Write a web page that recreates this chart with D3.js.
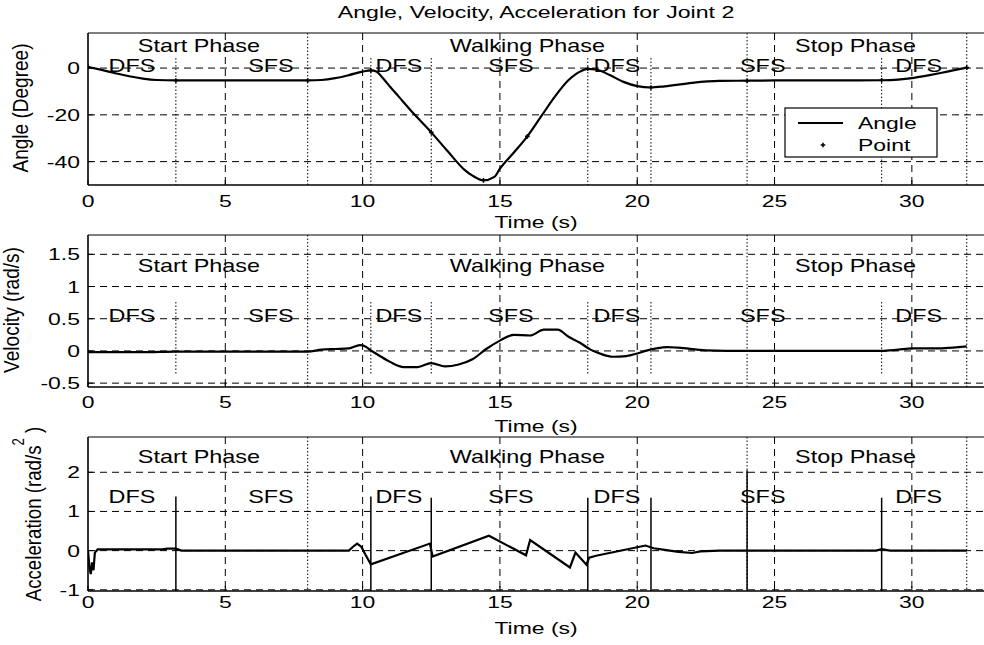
<!DOCTYPE html>
<html><head><meta charset="utf-8">
<script src="https://cdn.jsdelivr.net/npm/d3@7"></script>
<style>
html,body{margin:0;padding:0;background:#fff;}
svg{display:block;}
text{font-family:"Liberation Sans",Arial,sans-serif;fill:#000;}
</style></head>
<body>
<svg id="chart" width="984" height="645"></svg>
<script>
// ---------------- DATA ----------------
const title = "Angle, Velocity, Acceleration for Joint 2";
const xTicks = [0, 5, 10, 15, 20, 25, 30];
const angleTicks = [-40, -20, 0];
const velTicks = [-0.5, 0, 0.5, 1, 1.5];
const accTicks = [-1, 0, 1, 2];

const angleT = [0, 0.5, 1, 1.5, 2, 2.5, 3.2, 4, 5, 6, 7, 8, 8.5, 9, 9.5, 10, 10.3, 10.5, 10.75, 11, 11.3, 11.9, 12.5, 13.1, 13.7, 14.0, 14.4, 14.8, 15, 15.5, 16, 16.5, 17, 17.5, 18, 18.2, 18.5, 19, 19.5, 20, 20.5, 21, 22, 23, 24, 25, 26, 27, 28, 28.9, 29.5, 30, 30.5, 31, 31.5, 32];
const angleV = [0.5, -0.8, -2.2, -3.5, -4.5, -5.1, -5.3, -5.3, -5.3, -5.3, -5.3, -5.3, -5.1, -4.3, -3.0, -1.5, -1.0, -1.5, -4.5, -8.0, -12.0, -20.0, -27.5, -35.6, -43.4, -46.0, -48.0, -46.5, -43.0, -36.2, -29.2, -20.7, -12.2, -5.1, -1.0, -0.3, -0.6, -3.0, -5.9, -7.7, -8.3, -7.8, -6.3, -5.5, -5.4, -5.3, -5.3, -5.3, -5.3, -5.2, -4.9, -4.3, -3.3, -2.2, -1.0, 0.2];

const pointT = [0, 3.2, 8, 10.3, 12.5, 14.4, 16, 18.2, 20.5, 24, 28.9, 32];
const pointV = [0.5, -5.3, -5.3, -1.0, -27.5, -48.0, -29.2, -0.3, -8.3, -5.4, -5.2, 0.2];

const velT = [0, 2, 3.2, 5, 8, 8.5, 9, 9.5, 9.9, 10.1, 10.3, 10.6, 11, 11.5, 12, 12.5, 13, 13.5, 14, 14.5, 15, 15.5, 16.1, 16.6, 17.1, 17.5, 17.9, 18.3, 18.7, 19.1, 19.6, 20, 20.3, 20.7, 21.1, 21.5, 22.5, 24, 26, 28.9, 29.5, 30, 31, 31.7, 32];
const velV = [-0.02, -0.02, -0.01, -0.01, -0.01, 0.02, 0.03, 0.04, 0.09, 0.07, 0.01, -0.07, -0.17, -0.25, -0.25, -0.19, -0.24, -0.21, -0.13, 0.03, 0.16, 0.25, 0.24, 0.33, 0.33, 0.22, 0.13, 0.02, -0.05, -0.09, -0.08, -0.04, 0.0, 0.04, 0.06, 0.05, 0.01, 0.0, 0.0, 0.0, 0.02, 0.04, 0.04, 0.06, 0.07];

const accT = [0, 0.05, 0.1, 0.15, 0.2, 0.25, 0.35, 2.7, 2.9, 3.2, 3.4, 9.5, 9.65, 9.8, 9.95, 10.1, 10.3, 12.45, 12.55, 14.6, 15.95, 16.1, 17.55, 17.75, 18.15, 18.25, 18.5, 20.3, 20.6, 21, 21.5, 22, 22.3, 23, 28.7, 28.9, 29.2, 32];
const accV = [0, -0.4, -0.6, -0.3, -0.5, -0.05, 0.03, 0.03, 0.05, 0.05, 0.0, 0.0, 0.1, 0.18, 0.1, -0.1, -0.35, 0.18, -0.15, 0.38, -0.12, 0.27, -0.43, -0.05, -0.36, -0.18, -0.13, 0.13, 0.06, 0.02, -0.03, -0.06, -0.02, 0.0, 0.0, 0.04, 0.0, 0.0];

// impulses of acceleration at phase transitions
const spikeT = [3.2, 10.3, 12.5, 18.2, 20.5, 24, 28.9];
const spikeTop = [1.38, 1.38, 1.35, 1.35, 1.35, 2.05, 1.35];

const phaseBounds = [8, 24, 32];
const subBounds = [3.2, 10.3, 12.5, 18.2, 20.5, 28.9];

const phaseNames = ["Start Phase", "Walking Phase", "Stop Phase"];
const phaseAt = [4.04, 16.0, 27.95];
const subNames = ["DFS", "SFS", "DFS", "SFS", "DFS", "SFS", "DFS"];
const subAt = [1.6, 6.66, 11.32, 15.4, 19.26, 24.57, 30.25];

const legendNames = ["Angle", "Point"];

// ---------------- LAYOUT ----------------
const svg = d3.select("#chart");
const SX = 1.35;
const FS = 17;
const x = d3.scaleLinear().domain([0, 32.7]).range([88, 986]);

function stext(g, px, py, str, anchor, size, sx) {
  return g.append("text")
    .attr("transform", `translate(${px},${py}) scale(${sx || SX},1)`)
    .attr("text-anchor", anchor || "start")
    .style("font-size", (size || FS) + "px")
    .text(str);
}

const panels = [
  {key: "angle", top: 33, bottom: 185, domain: [-50, 15], ticks: angleTicks, tickLblDy: 22, timeY: 228,
   phaseY: 52, subY: 72, subLineTop: 4.3, subLineBot: -50,
   label: "Angle (Degree)", labelX: 28, labelY: 108},
  {key: "vel", top: 235, bottom: 387, domain: [-0.56, 1.8], ticks: velTicks, tickLblDy: 21, timeY: 432,
   phaseY: 272, subY: 322, subLineTop: 0.76, subLineBot: -0.38,
   label: "Velocity (rad/s)", labelX: 19, labelY: 310},
  {key: "acc", top: 437, bottom: 591, domain: [-1.03, 2.9], ticks: accTicks, tickLblDy: 17, timeY: 634,
   phaseY: 463, subY: 503, subLineTop: null, subLineBot: null,
   label: null, labelX: 41, labelY: 514}
];

// title
stext(svg, 536, 18, title, "middle", 17, 1.36);

const lineGen = (y, curve) => d3.line().x(d => x(d[0])).y(d => y(d[1])).curve(curve || d3.curveLinear);

panels.forEach((p, i) => {
  const y = d3.scaleLinear().domain(p.domain).range([p.bottom, p.top]);
  const g = svg.append("g");
  const x0 = x.range()[0], x1 = x.range()[1];

  const clipId = "clip" + i;
  svg.append("clipPath").attr("id", clipId).append("rect")
    .attr("x", x0).attr("y", p.top).attr("width", x1 - x0).attr("height", p.bottom - p.top);

  // grid
  g.selectAll(".hg").data(p.ticks).enter().append("line")
    .attr("x1", x0).attr("x2", x1).attr("y1", d => y(d)).attr("y2", d => y(d))
    .attr("stroke", "#000").attr("stroke-width", 1).attr("stroke-dasharray", "7,5");
  g.selectAll(".vg").data(xTicks.filter(d => d > 0)).enter().append("line")
    .attr("x1", d => x(d)).attr("x2", d => x(d)).attr("y1", p.top).attr("y2", p.bottom)
    .attr("stroke", "#000").attr("stroke-width", 1).attr("stroke-dasharray", "7,5");

  // phase boundaries (dotted)
  g.selectAll(".pb").data(phaseBounds).enter().append("line")
    .attr("x1", d => x(d)).attr("x2", d => x(d)).attr("y1", p.top).attr("y2", p.bottom)
    .attr("stroke", "#000").attr("stroke-width", 1).attr("stroke-dasharray", "1.5,2");
  if (p.subLineTop !== null) {
    g.selectAll(".sb").data(subBounds).enter().append("line")
      .attr("x1", d => x(d)).attr("x2", d => x(d))
      .attr("y1", y(p.subLineTop)).attr("y2", y(p.subLineBot))
      .attr("stroke", "#000").attr("stroke-width", 1).attr("stroke-dasharray", "1.5,2");
  }

  // frame
  g.append("line").attr("x1", x0).attr("x2", x1).attr("y1", p.top).attr("y2", p.top)
    .attr("stroke", "#000").attr("stroke-width", 1.2);
  g.append("line").attr("x1", x0).attr("x2", x1).attr("y1", p.bottom).attr("y2", p.bottom)
    .attr("stroke", "#000").attr("stroke-width", 1.6);
  g.append("line").attr("x1", x0).attr("x2", x0).attr("y1", p.top).attr("y2", p.bottom)
    .attr("stroke", "#000").attr("stroke-width", 1.6);

  // inside ticks
  g.selectAll(".xt").data(xTicks).enter().append("line")
    .attr("x1", d => x(d)).attr("x2", d => x(d)).attr("y1", p.bottom).attr("y2", p.bottom - 5)
    .attr("stroke", "#000");
  g.selectAll(".yt").data(p.ticks).enter().append("line")
    .attr("x1", x0).attr("x2", x0 + 5).attr("y1", d => y(d)).attr("y2", d => y(d))
    .attr("stroke", "#000");

  // tick labels
  p.ticks.forEach(t => stext(g, 80, y(t) + 6, String(t), "end", 17));
  xTicks.forEach(t => stext(g, x(t), p.bottom + p.tickLblDy, String(t), "middle", 17));
  stext(g, 536, p.timeY, "Time (s)", "middle", 17);

  // phase labels
  phaseNames.forEach((s, k) => stext(g, x(phaseAt[k]), p.phaseY, s, "middle", 18, 1.3));
  subNames.forEach((s, k) => stext(g, x(subAt[k]), p.subY, s, "middle", 18, 1.3));

  // data
  const dg = g.append("g").attr("clip-path", `url(#${clipId})`);
  if (p.key === "angle") {
    dg.append("path").datum(angleT.map((t, k) => [t, angleV[k]]))
      .attr("d", lineGen(y, d3.curveMonotoneX)).attr("fill", "none").attr("stroke", "#000").attr("stroke-width", 2.2);
    dg.selectAll(".pt").data(pointT.map((t, k) => [t, pointV[k]])).enter().append("path")
      .attr("transform", d => `translate(${x(d[0])},${y(d[1])})`)
      .attr("d", d3.symbol().type(d3.symbolCross).size(12))
      .attr("fill", "#000");
  } else if (p.key === "vel") {
    dg.append("path").datum(velT.map((t, k) => [t, velV[k]]))
      .attr("d", lineGen(y, d3.curveMonotoneX)).attr("fill", "none").attr("stroke", "#000").attr("stroke-width", 2.2);
  } else {
    dg.selectAll(".sp").data(spikeT).enter().append("line")
      .attr("x1", d => x(d)).attr("x2", d => x(d))
      .attr("y1", (d, k) => y(spikeTop[k])).attr("y2", p.bottom)
      .attr("stroke", "#000").attr("stroke-width", 1.5);
    dg.append("path").datum(accT.map((t, k) => [t, accV[k]]))
      .attr("d", lineGen(y)).attr("fill", "none").attr("stroke", "#000").attr("stroke-width", 2.2);
  }

  // y label
  if (p.label) {
    g.append("text")
      .attr("transform", `translate(${p.labelX},${p.labelY}) rotate(-90) scale(1.12,1.3)`)
      .attr("text-anchor", "middle").style("font-size", "17px").text(p.label);
  } else {
    const tx = g.append("text")
      .attr("transform", `translate(${p.labelX},${p.labelY}) rotate(-90) scale(1.1,1.3)`)
      .attr("text-anchor", "middle").style("font-size", "17px");
    tx.append("tspan").text("Acceleration (rad/s");
    tx.append("tspan").attr("dy", -13).style("font-size", "12px").text("2");
    tx.append("tspan").attr("dy", 13).text(" )");
  }

  // legend
  if (p.key === "angle") {
    const lg = g.append("g");
    lg.append("rect").attr("x", 785).attr("y", 108).attr("width", 152).attr("height", 49)
      .attr("fill", "#fff").attr("stroke", "#000").attr("stroke-width", 1.2);
    lg.append("line").attr("x1", 798).attr("x2", 843).attr("y1", 123).attr("y2", 123)
      .attr("stroke", "#000").attr("stroke-width", 2.2);
    lg.append("path").attr("transform", "translate(823,145)")
      .attr("d", d3.symbol().type(d3.symbolCross).size(12)).attr("fill", "#000");
    stext(lg, 858, 129, legendNames[0], "start", 17);
    stext(lg, 858, 151, legendNames[1], "start", 17);
  }
});
</script>
</body></html>
